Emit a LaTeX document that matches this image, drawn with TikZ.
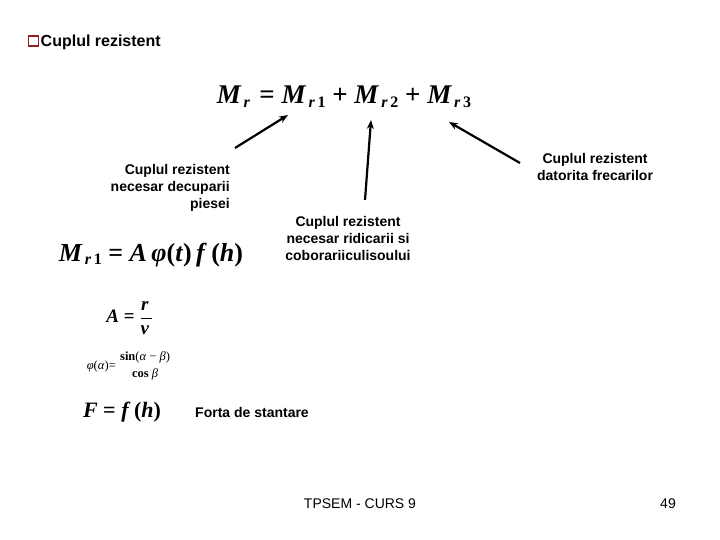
\documentclass[tikz,border=0pt]{standalone}
\usepackage{fontspec}
\setmainfont{Liberation Serif}
\newfontfamily\arial{Liberation Sans}
\usetikzlibrary{arrows.meta}
\definecolor{bulletred}{RGB}{150,30,40}
\newcommand{\Msb}[2]{\textit{M}\kern0.08em\raisebox{-0.3ex}{\fontsize{#1}{#1}\selectfont\textit{r}\,#2}}
\newcommand{\hfr}[2]{{\displaystyle\frac{\hbox{#1}}{\hbox{#2}}}}
\newcommand{\hstack}[2]{{\displaystyle{\hbox{#1}\atop\hbox{#2}}}}
\tikzset{
  lbl/.style={font=\arial\bfseries\fontsize{14}{17}\selectfont, inner sep=0pt, align=center},
  eqn/.style={font=\bfseries, inner sep=0pt},
  arr/.style={line width=2.2pt, -{Stealth[length=9pt,width=7pt]}},
}
\begin{document}
\begin{tikzpicture}[x=1pt,y=-1pt]
\useasboundingbox (0,0) rectangle (720,540);
% title
\node[draw=bulletred, line width=1.4pt, minimum size=10pt, inner sep=0pt] (bul) at (33.5,41) {};
\node[font=\arial\bfseries\fontsize{16}{18}\selectfont, anchor=west, inner sep=0pt] (title) at (40.5,42) {Cuplul rezistent};
% main equation
\node[eqn, font=\bfseries\fontsize{27}{30}\selectfont] (main) at (344,97)
  {\Msb{16}{} = \Msb{16}{1} + \Msb{16}{2} + \Msb{16}{3}};
% labels
\node[lbl, align=right, anchor=north east] (l1) at (230,164) {Cuplul rezistent\\necesar decuparii\\piesei};
\node[lbl] (l2) at (348,238) {Cuplul rezistent\\necesar ridicarii si\\coborariiculisoului};
\node[lbl] (l3) at (595,167) {Cuplul rezistent\\datorita frecarilor};
% arrows
\coordinate (a1s) at (235,148); \coordinate (a1e) at (288,115);
\coordinate (a2s) at (365,200); \coordinate (a2e) at (371,120);
\coordinate (a3s) at (520,163); \coordinate (a3e) at (449,122);
\draw[arr] (a1s) -- (a1e);
\draw[arr] (a2s) -- (a2e);
\draw[arr] (a3s) -- (a3e);
% equations left
\node[eqn, font=\bfseries\fontsize{26}{28}\selectfont] (eq2) at (151,255)
  {\Msb{16}{1} = \textit{A}\,\textit{φ}(\textit{t})\,\textit{f}\,(\textit{h})};
\node[eqn, font=\bfseries\fontsize{19}{20}\selectfont] (eqA) at (130,318)
  {\textit{A} = $\hfr{\textit{r}\,}{\textit{v}\,}$};
\node[eqn, font=\fontsize{12.5}{13}\selectfont] (eqphi) at (129,366)
  {\textit{φ}(\textit{α})= $\hstack{\textbf{sin}(\textit{α} − \textit{β})}{\textbf{cos} \textit{β}}$};
\node[eqn, font=\bfseries\fontsize{22}{24}\selectfont] (eqF) at (122,412)
  {\textit{F} = \textit{f}\,(\textit{h})};
\node[lbl, anchor=west] (forta) at (195,412) {Forta de stantare};
% footer
\node[font=\arial\fontsize{14}{16}\selectfont, inner sep=0pt] (foot) at (360,504) {TPSEM - CURS 9};
\node[font=\arial\fontsize{14}{16}\selectfont, inner sep=0pt] (page) at (668,504) {49};
\end{tikzpicture}
\end{document}
